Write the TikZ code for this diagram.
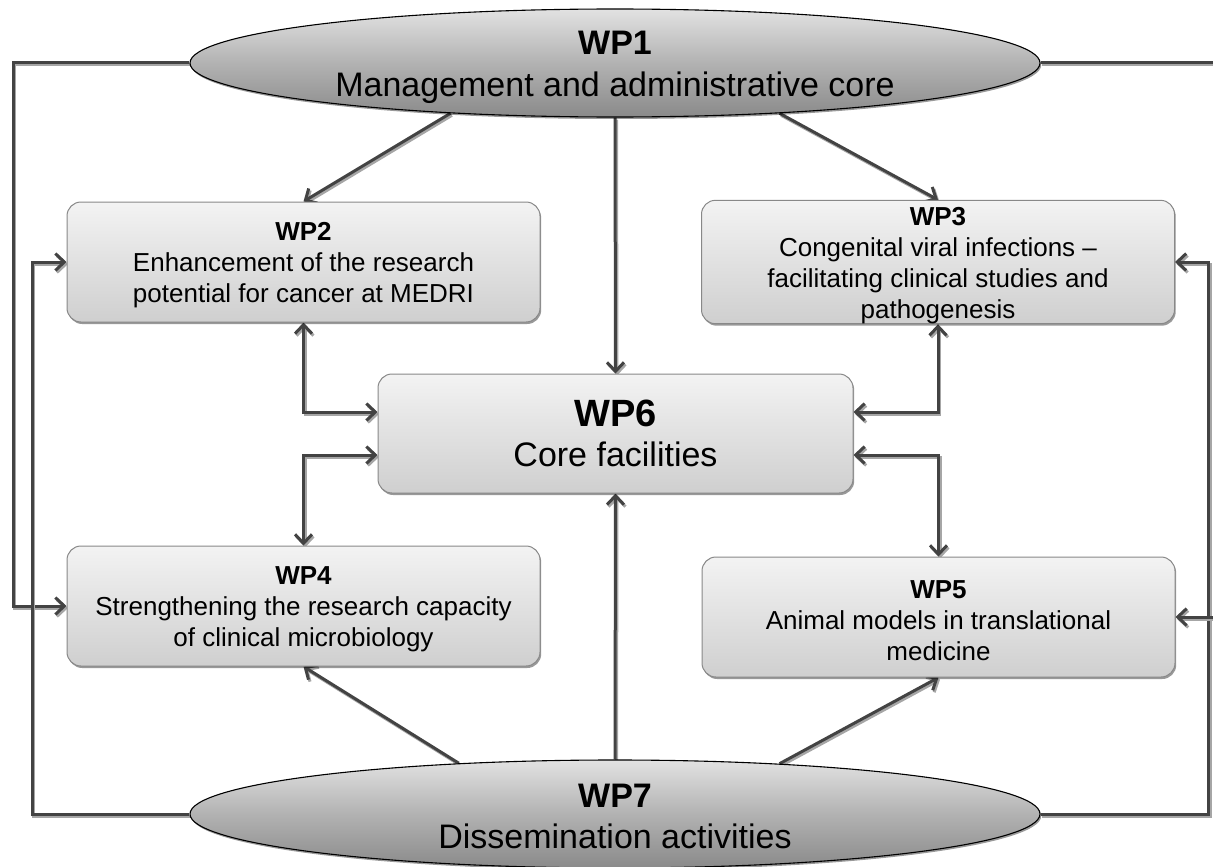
\documentclass[tikz,border=0pt]{standalone}
\usepackage{fontspec}
\setmainfont{Liberation Sans}
\usetikzlibrary{shapes.geometric,arrows.meta,shadows,calc}

\definecolor{linegray}{HTML}{434343}
\definecolor{haze}{HTML}{A6A6A6}
\definecolor{boxtop}{HTML}{F3F3F3}
\definecolor{boxbot}{HTML}{CFCFCF}
\definecolor{boxedge}{HTML}{888888}
\definecolor{elltop}{HTML}{E2E2E2}
\definecolor{ellmid}{HTML}{B2B2B2}
\definecolor{ellbot}{HTML}{8A8A8A}

% extra head room above the first line of a box text
\newcommand\toppad{\rule{0pt}{25pt}}

\pgfdeclarelayer{background}
\pgfsetlayers{background,main}

\tikzset{
  barb/.tip={Straight Barb[length=9pt,width=17pt]},
  wpbox/.style={rectangle, rounded corners=14pt, draw=boxedge, line width=1pt,
    top color=boxtop, bottom color=boxbot, minimum width=473pt, minimum height=120pt,
    inner sep=0pt, align=center, font=\fontsize{26}{31}\selectfont,
    drop shadow={shadow xshift=1.2pt, shadow yshift=-2pt, fill=black, opacity=0.4}},
  wpoval/.style={ellipse, draw=black, line width=1.1pt,
    top color=elltop, bottom color=ellbot, middle color=ellmid,
    minimum width=850pt, minimum height=108pt, inner sep=0pt,
    drop shadow={shadow xshift=1.2pt, shadow yshift=-2pt, fill=black, opacity=0.4}},
  ovaltext/.style={anchor=base, inner sep=0pt, font=\fontsize{34}{41}\selectfont},
  link/.style={draw=linegray, line width=3pt, -barb,
    preaction={draw=haze, line width=3pt, transform canvas={shift={(1.5pt,-2pt)}}}},
  twoway/.style={link, barb-barb},
}

\begin{document}
\begin{tikzpicture}[x=1pt,y=-1pt]
\clip (0,0) rectangle (1213,867);

% management and dissemination ovals
\node[wpoval] (wp1) at (615,63) {};
\node[ovaltext] (wp1t) at (615,55) {\bfseries WP1};
\node[ovaltext] (wp1s) at (615,96) {Management and administrative core};

\node[wpoval] (wp7) at (615,814) {};
\node[ovaltext] (wp7t) at (615,807) {\bfseries WP7};
\node[ovaltext] (wp7s) at (615,848) {Dissemination activities};

% work package boxes
\node[wpbox] (wp2) at (303.5,262) {\toppad\textbf{WP2}\\Enhancement of the research\\potential for cancer at MEDRI};
\node[wpbox] (wp3) at (938,262) {\toppad\textbf{WP3}\\Congenital viral infections –\\facilitating clinical studies and\\pathogenesis};
\node[wpbox] (wp4) at (303.5,606) {\toppad\textbf{WP4}\\Strengthening the research capacity\\of clinical microbiology};
\node[wpbox] (wp5) at (938.5,617) {\toppad\textbf{WP5}\\Animal models in translational\\medicine};
\node[wpbox, minimum width=475pt, minimum height=119pt, font=\fontsize{34}{40}\selectfont]
  (wp6) at (615.5,433.5) {{\fontsize{38}{40}\selectfont\bfseries WP6}\\Core facilities};

% side entry points of the core facilities box
\coordinate (c6nw) at ($(wp6.west)+(0,-21.5)$);
\coordinate (c6sw) at ($(wp6.west)+(0,21.5)$);
\coordinate (c6ne) at ($(wp6.east)+(0,-21.5)$);
\coordinate (c6se) at ($(wp6.east)+(0,21.5)$);

\begin{pgfonlayer}{background}
  % from WP1
  \draw[link] (wp1.197) -- (wp2.north);
  \draw[link] (wp1.343) -- (wp3.north);
  \draw[link] (wp1.south) -- (wp6.north);
  % from WP7
  \draw[link] (wp7.162) -- (wp4.south);
  \draw[link] (wp7.17) -- (wp5.south);
  \draw[link] (wp7.north) -- (wp6.south);
  % exchanges with the core facilities
  \draw[twoway] (wp2.south) |- (c6nw);
  \draw[twoway] (wp4.north) |- (c6sw);
  \draw[twoway] (wp3.south) |- (c6ne);
  \draw[twoway] (wp5.north) |- (c6se);
  % outer feedback loops
  \draw[link] (wp1.west) -- ++(-176,0) |- (wp4.west);
  \draw[link] (wp7.west) -- ++(-157,0) |- (wp2.west);
  \draw[link] (wp7.east) -- ++(168,0) |- (wp3.east);
  \draw[link] (wp1.east) -- ++(185,0) |- (wp5.east);
\end{pgfonlayer}
\end{tikzpicture}
\end{document}
